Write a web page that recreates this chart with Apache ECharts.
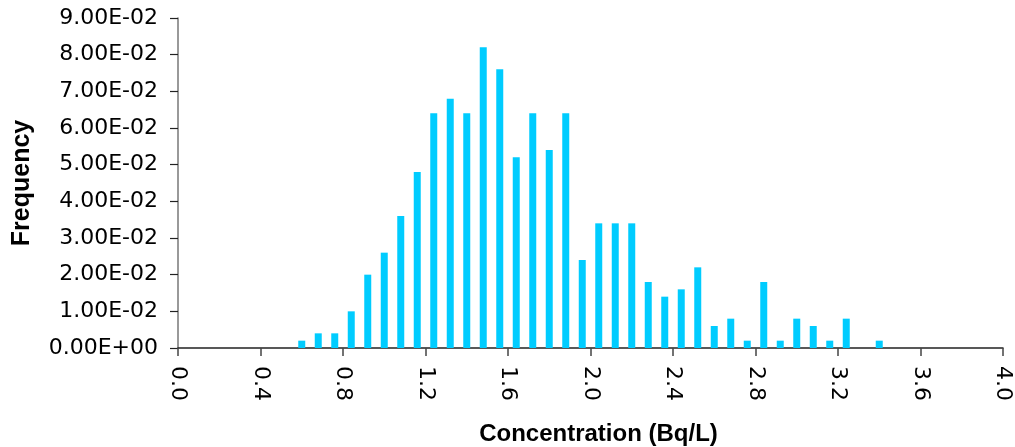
<!DOCTYPE html>
<html>
<head>
<meta charset="utf-8">
<script src="https://cdn.jsdelivr.net/npm/echarts@6/dist/echarts.min.js"></script>
<style>
html,body{margin:0;padding:0;background:#fff;}
#c{width:1015px;height:447px;}
</style>
</head>
<body>
<div id="c"></div>
<script>
// Bin centres (Bq/L)
const binCenters = [0.60,0.68,0.76,0.84,0.92,1.00,1.08,1.16,1.24,1.32,1.40,1.48,1.56,1.64,1.72,1.80,1.88,1.96,2.04,2.12,2.20,2.28,2.36,2.44,2.52,2.60,2.68,2.76,2.84,2.92,3.00,3.08,3.16,3.24,3.32,3.40];
// Frequency values
const frequency = [0.002,0.004,0.004,0.010,0.020,0.026,0.036,0.048,0.064,0.068,0.064,0.082,0.076,0.052,0.064,0.054,0.064,0.024,0.034,0.034,0.034,0.018,0.014,0.016,0.022,0.006,0.008,0.002,0.018,0.002,0.008,0.006,0.002,0.008,0.000,0.002];
const xTitle = 'Concentration (Bq/L)';
const yTitle = 'Frequency';

function sci(v){
  if (Math.abs(v) < 1e-12) return '0.00E+00';
  let e = Math.floor(Math.log10(Math.abs(v)) + 1e-9);
  let m = v / Math.pow(10, e);
  let ae = Math.abs(e);
  return m.toFixed(2) + 'E' + (e < 0 ? '-' : '+') + (ae < 10 ? '0' : '') + ae;
}

const chart = echarts.init(document.getElementById('c'), null, {renderer:'canvas'});
chart.setOption({
  animation:false,
  backgroundColor:'#ffffff',
  grid:{left:178, right:12, top:18, bottom:99, containLabel:false, outerBoundsMode:'none'},
  xAxis:{
    type:'value', min:0, max:4, interval:0.4,
    name:xTitle, nameLocation:'middle', nameGap:74,
    nameTextStyle:{fontFamily:'Liberation Sans', fontWeight:'bold', fontSize:24, color:'#000', padding:[0,0,0,16]},
    axisLine:{show:true, lineStyle:{color:'#222', width:1.5}},
    axisTick:{show:true, inside:false, length:8, lineStyle:{color:'#444', width:1.5}},
    axisLabel:{rotate:-90, margin:18, fontFamily:'DejaVu Sans', fontSize:22, color:'#000',
      formatter:function(v){return v.toFixed(1);}},
    splitLine:{show:false}
  },
  yAxis:{
    type:'value', min:0, max:0.09, interval:0.01,
    name:yTitle, nameLocation:'middle', nameGap:143, nameRotate:90,
    nameTextStyle:{fontFamily:'Liberation Sans', fontWeight:'bold', fontSize:25, color:'#000'},
    axisLine:{show:true, lineStyle:{color:'#777', width:1.5}},
    axisTick:{show:true, inside:false, length:8, lineStyle:{color:'#222', width:1.2}},
    axisLabel:{margin:20, fontFamily:'DejaVu Sans', fontSize:22, color:'#000', formatter:sci},
    splitLine:{show:false}
  },
  series:[{
    type:'bar',
    data: binCenters.map((x,i)=>[x, frequency[i]]),
    barWidth:7,
    itemStyle:{color:'#00CCFF'}
  }]
});
</script>
</body>
</html>
